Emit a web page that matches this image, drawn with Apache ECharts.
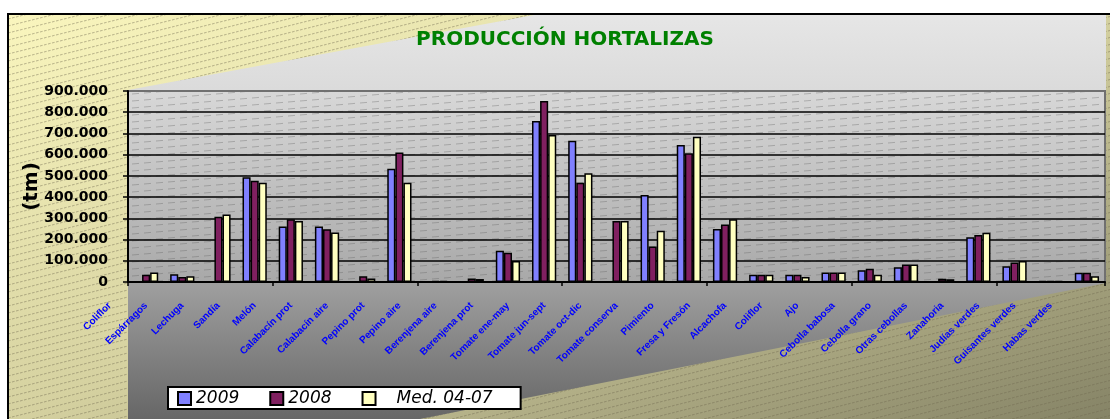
<!DOCTYPE html>
<html>
<head>
<meta charset="utf-8">
<script src="https://cdn.jsdelivr.net/npm/echarts@6/dist/echarts.min.js"></script>
<style>html,body{margin:0;padding:0;background:#fff}#c{width:1110px;height:419px}</style>
</head>
<body>
<div id="c"></div>
<script>
// ---- data ----
const categories = ['Coliflor','Espárragos','Lechuga','Sandía','Melón','Calabacín prot','Calabacín aire','Pepino prot','Pepino aire','Berenjena aire','Berenjena prot','Tomate ene-may','Tomate jun-sept','Tomate oct-dic','Tomate conserva','Pimiento','Fresa y Fresón','Alcachofa','Coliflor','Ajo','Cebolla babosa','Cebolla grano','Otras cebollas','Zanahoria','Judías verdes','Guisantes verdes','Habas verdes'];
const seriesNames = ['2009','2008','Med. 04-07'];
const s2009 = [null,36000,null,493000,261000,261000,null,534000,null,null,147000,759000,665000,null,410000,645000,250000,34000,34000,45000,55000,70000,null,211000,74000,4000,44000];
const s2008 = [34000,23000,308000,477000,296000,249000,27000,610000,5000,16000,138000,853000,468000,288000,167000,607000,271000,34000,34000,45000,63000,83000,15000,222000,92000,4000,44000];
const sMed  = [45000,27000,318000,468000,288000,233000,16000,468000,5000,14000,99000,693000,513000,288000,241000,684000,296000,34000,23000,45000,34000,83000,13000,232000,99000,4000,27000];
const yTicks = [0,100000,200000,300000,400000,500000,600000,700000,800000,900000];
const title = 'PRODUCCIÓN HORTALIZAS';
const yName = '(tm)';

// ---- layout ----
const W = 1110, H = 419;
const G = {left:128, right:5, top:91, bottom:137};
const slot = (W - G.left - G.right) / categories.length;
const plot = {x:G.left, y:G.top, width:W - G.left - G.right, height:H - G.top - G.bottom};
const barSlots = categories.slice(1).concat(['']);

function hatch(w, h, dash, period, color, lw) {
  const c = document.createElement('canvas'); c.width = w; c.height = h;
  const g = c.getContext('2d'); g.strokeStyle = color; g.lineWidth = lw;
  const k = h / w;
  [-h, 0, h].forEach(function (off) {
    for (let x = 0; x < w; x += period) {
      g.beginPath();
      g.moveTo(x, h - k * x + off);
      g.lineTo(x + dash, h - k * (x + dash) + off);
      g.stroke();
    }
  });
  return c;
}
const hatchY = hatch(28, 7, 2.6, 4, 'rgba(110,105,80,0.45)', 1);
const hatchP = hatch(84, 7, 7, 12, 'rgba(95,95,95,0.35)', 1);

const fmt = v => String(v).replace(/\B(?=(\d{3})+(?!\d))/g, '.');

const chart = echarts.init(document.getElementById('c'), null, {renderer:'canvas'});
const gridLineColors = yTicks.map((v, i) => i === yTicks.length - 1 ? '#707070' : '#000');

chart.setOption({
  animation: false,
  backgroundColor: '#ffffff',
  title: {
    text: title, left: 565, textAlign: 'center', top: 30, padding: 0,
    textStyle: {color:'#008000', fontFamily:'DejaVu Sans', fontWeight:'bold', fontSize:20}
  },
  graphic: {elements: [
    {type:'rect', z:-10, silent:true, shape:{x:8, y:14, width:1110, height:420},
     style:{fill:{type:'linear', global:true, x:8, y:14, x2:270, y2:728,
       colorStops:[{offset:0,color:'#FAF6BE'},{offset:0.5,color:'#D5D1A0'},{offset:1,color:'#858366'}]},
       stroke:'#000', lineWidth:2}},
    {type:'rect', z:-9, silent:true, shape:{x:9, y:15, width:1110, height:420},
     style:{fill:{image:hatchY, repeat:'repeat'}}},
    {type:'polygon', z:-8, silent:true,
     shape:{points:[[G.left,G.top-1],[534,15],[W-G.right+1,15],[W-G.right+1,283],[415,420],[G.left,420]]},
     style:{fill:{type:'linear', x:0, y:0, x2:0, y2:1,
       colorStops:[{offset:0,color:'#E6E6E6'},{offset:0.2,color:'#DADADA'},{offset:0.68,color:'#9C9C9C'},{offset:1,color:'#666666'}]}}},
    {type:'rect', z:-7, silent:true, shape:plot,
     style:{fill:{type:'linear', x:0, y:0, x2:0, y2:1,
       colorStops:[{offset:0,color:'#D8D8D8'},{offset:1,color:'#A8A8A8'}]},
       stroke:'#707070', lineWidth:2}},
    {type:'rect', z:-6, silent:true, shape:{x:plot.x+1, y:plot.y+1, width:plot.width-2, height:plot.height-2},
     style:{fill:{image:hatchP, repeat:'repeat'}}}
  ]},
  legend: {
    data: seriesNames, left: 168, top: 387, orient: 'horizontal',
    icon: 'rect', itemWidth: 13, itemHeight: 13, itemGap: 30,
    backgroundColor: '#fff', borderColor: '#000', borderWidth: 2, borderRadius: 0,
    padding: [3, 28, 2, 9],
    formatter: n => n === seriesNames[2] ? '{p|' + n + '}' : n,
    textStyle: {fontFamily:'DejaVu Sans', fontStyle:'italic', fontSize:17, color:'#000',
      rich:{p:{padding:[0,0,0,16], fontFamily:'DejaVu Sans', fontStyle:'italic', fontSize:17, color:'#000'}}}
  },
  grid: [
    Object.assign({outerBoundsMode:'none', containLabel:false}, G),
    {outerBoundsMode:'none', containLabel:false, left:G.left - slot, right:G.right + slot, top:G.top, bottom:G.bottom}
  ],
  xAxis: [
    {type:'category', gridIndex:0, data:barSlots,
     axisLine:{show:true, lineStyle:{color:'#000', width:2}},
     axisTick:{show:true, length:4, lineStyle:{color:'#000', width:1.5}},
     axisLabel:{show:false}, splitLine:{show:false}},
    {type:'category', gridIndex:1, data:categories, position:'bottom',
     axisLine:{show:false}, axisTick:{show:false}, splitLine:{show:false},
     axisLabel:{interval:0, rotate:45, margin:22, color:'#0000FF',
       fontFamily:'Liberation Sans, Arial, sans-serif', fontWeight:'bold', fontSize:10}}
  ],
  yAxis: [
    {type:'value', gridIndex:0, min:yTicks[0], max:yTicks[yTicks.length-1], interval:yTicks[1]-yTicks[0],
     name: yName, nameLocation:'middle', nameRotate:90, nameGap:86, nameMoveOverlap:false,
     nameTextStyle:{fontFamily:'DejaVu Sans', fontWeight:'bold', fontSize:20, color:'#000'},
     axisLine:{show:true, lineStyle:{color:'#000', width:2}},
     axisTick:{show:true, length:5, lineStyle:{color:'#000', width:1.5}},
     axisLabel:{margin:20, formatter:fmt, color:'#000', fontFamily:'DejaVu Sans', fontWeight:'bold', fontSize:14},
     splitLine:{show:true, lineStyle:{color:gridLineColors, width:1.6}}},
    {type:'value', gridIndex:1, show:false}
  ],
  series: [
    {name:seriesNames[0], type:'bar', xAxisIndex:0, yAxisIndex:0, data:s2009, barGap:'0%', barCategoryGap:'33%',
     itemStyle:{color:'#8080FF', borderColor:'#000', borderWidth:1.5}},
    {name:seriesNames[1], type:'bar', xAxisIndex:0, yAxisIndex:0, data:s2008, barGap:'0%', barCategoryGap:'33%',
     itemStyle:{color:'#802060', borderColor:'#000', borderWidth:1.5}},
    {name:seriesNames[2], type:'bar', xAxisIndex:0, yAxisIndex:0, data:sMed, barGap:'0%', barCategoryGap:'33%',
     itemStyle:{color:'#FFFFC0', borderColor:'#000', borderWidth:1.5}}
  ]
});
</script>
</body>
</html>
